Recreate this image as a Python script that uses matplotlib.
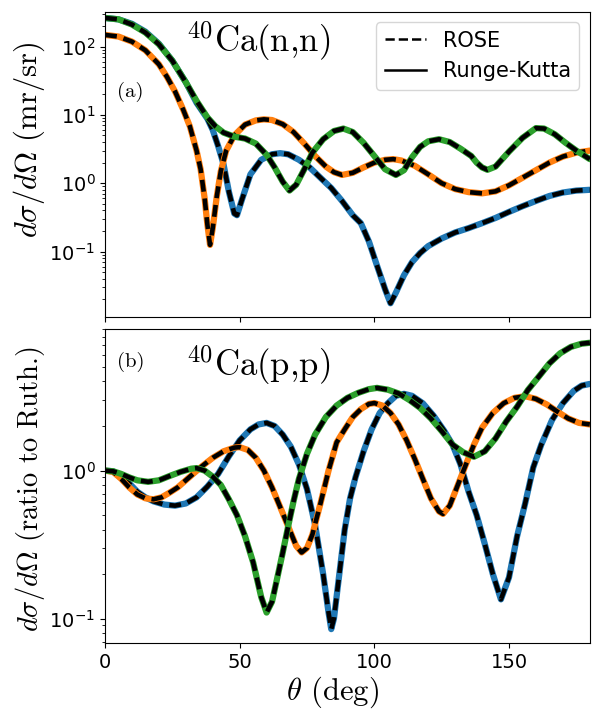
import matplotlib
matplotlib.use('Agg')
import matplotlib.pyplot as plt
from matplotlib.lines import Line2D

plt.rcParams['mathtext.fontset'] = 'cm'

# ---- panel (a): 40Ca(n,n), mr/sr ----
n_blue_th = [0, 5, 10, 15, 20, 25, 30, 34, 38, 40, 42, 44, 46, 48, 49, 51, 54, 58, 62, 65, 68, 72,
             76, 80, 84, 88, 92, 95, 98, 101, 104, 106, 108, 111, 114, 117, 120, 125, 130, 135,
             140, 145, 150, 155, 160, 165, 170, 175, 180]
n_blue = [262, 250, 215, 165, 110, 62, 30, 15, 8.8, 6.0, 3.5, 1.9, 0.75, 0.36, 0.34, 0.6, 1.35, 2.2,
          2.65, 2.75, 2.65, 2.2, 1.7, 1.2, 0.85, 0.55, 0.34, 0.26, 0.14, 0.062, 0.028, 0.0175, 0.025,
          0.045, 0.07, 0.095, 0.12, 0.155, 0.19, 0.22, 0.26, 0.31, 0.38, 0.46, 0.55, 0.65, 0.73,
          0.78, 0.80]

n_orange_th = [0, 5, 10, 15, 20, 23, 26, 29, 31.5, 34, 35.5, 37, 38, 39, 40, 41.5, 43, 45, 48, 52,
               56, 59, 62, 66, 70, 74, 78, 82, 85, 88, 92, 96, 100, 104, 107, 110, 115, 120, 125,
               130, 135, 140, 145, 150, 155, 160, 165, 170, 175, 180]
n_orange = [148, 140, 118, 88, 55, 36, 22, 12, 6.8, 3.0, 1.6, 0.6, 0.25, 0.125, 0.22, 0.64, 1.5,
            3.0, 5.0, 7.2, 8.3, 8.6, 8.4, 7.3, 5.6, 3.8, 2.5, 1.75, 1.45, 1.32, 1.42, 1.7, 2.0,
            2.2, 2.25, 2.15, 1.8, 1.35, 1.0, 0.82, 0.74, 0.71, 0.76, 0.93, 1.2, 1.55, 2.0, 2.45,
            2.8, 3.0]

n_green_th = [0, 5, 10, 15, 20, 25, 30, 34, 38, 41, 44, 48, 52, 56, 60, 63, 66, 68.5, 71, 74, 77,
              81, 85, 88.5, 92, 96, 100, 104, 108, 111, 114, 117, 120, 124, 128, 132, 136, 138,
              140, 142, 145, 150, 155, 160, 163, 167, 171, 175, 180]
n_green = [262, 250, 210, 160, 108, 62, 30, 16, 9.2, 6.8, 5.5, 4.8, 4.5, 3.8, 2.6, 1.7, 1.05, 0.78,
           0.95, 1.6, 2.8, 4.4, 5.8, 6.3, 5.6, 3.9, 2.5, 1.6, 1.32, 1.55, 2.4, 3.4, 4.1, 4.4, 4.0,
           3.2, 2.5, 2.0, 1.7, 1.57, 1.75, 2.9, 4.6, 6.4, 6.3, 5.2, 3.9, 3.0, 2.25]

# ---- panel (b): 40Ca(p,p), ratio to Rutherford ----
p_blue_th = [0, 3, 6, 9, 12, 15, 18, 22, 26, 30, 34, 38, 42, 46, 50, 54, 57, 60, 63, 66, 69, 72,
             75, 78, 81, 83, 84, 85, 87, 89, 91, 93, 96, 99, 102, 105, 108, 111, 114, 118, 122,
             126, 129, 132, 135, 138, 141, 144, 147, 150, 153, 156, 159, 162, 166, 170, 174, 177,
             180]
p_blue = [1.0, 0.99, 0.92, 0.82, 0.72, 0.66, 0.62, 0.59, 0.58, 0.6, 0.66, 0.78, 0.95, 1.25, 1.6,
          1.9, 2.05, 2.1, 2.0, 1.75, 1.45, 1.1, 0.75, 0.43, 0.2, 0.11, 0.085, 0.1, 0.2, 0.4, 0.65,
          0.9, 1.35, 1.9, 2.45, 2.85, 3.2, 3.3, 3.2, 2.85, 2.35, 1.85, 1.5, 1.1, 0.72, 0.5, 0.32,
          0.2, 0.135, 0.19, 0.36, 0.6, 1.05, 1.5, 2.2, 2.85, 3.45, 3.75, 3.85]

p_orange_th = [0, 3, 6, 9, 12, 15, 18, 21, 24, 27, 30, 33, 36, 40, 44, 48, 50, 53, 56, 59, 62, 65,
               68, 71, 73, 75, 77, 80, 83, 86, 89, 92, 95, 98, 100, 103, 106, 109, 112, 115, 118,
               121, 124, 125.5, 128, 131, 134, 137, 140, 144, 148, 152, 156, 160, 164, 168, 172,
               176, 180]
p_orange = [1.0, 0.98, 0.88, 0.77, 0.69, 0.65, 0.64, 0.66, 0.71, 0.77, 0.86, 0.96, 1.07, 1.22,
            1.35, 1.43, 1.44, 1.38, 1.22, 1.0, 0.77, 0.57, 0.42, 0.31, 0.28, 0.3, 0.37, 0.6, 1.0,
            1.55, 1.9, 2.3, 2.6, 2.82, 2.86, 2.75, 2.45, 2.05, 1.6, 1.2, 0.88, 0.65, 0.53, 0.51,
            0.58, 0.8, 1.1, 1.5, 1.95, 2.45, 2.85, 3.1, 3.18, 3.05, 2.8, 2.5, 2.25, 2.1, 2.05]

p_green_th = [0, 3, 6, 9, 12, 16, 20, 24, 28, 32, 34, 37, 40, 43, 46, 49, 52, 55, 58, 60, 62, 64,
              66, 68, 70, 72, 75, 78, 82, 86, 90, 94, 98, 101, 105, 109, 113, 117, 121, 125, 129,
              133, 137, 141, 145, 149, 153, 157, 161, 165, 169, 173, 177, 180]
p_green = [1.0, 0.99, 0.95, 0.9, 0.86, 0.84, 0.86, 0.92, 0.98, 1.03, 1.04, 1.0, 0.91, 0.8, 0.64,
           0.5, 0.36, 0.24, 0.14, 0.11, 0.13, 0.19, 0.28, 0.42, 0.62, 0.88, 1.3, 1.75, 2.3, 2.75,
           3.1, 3.35, 3.55, 3.62, 3.52, 3.32, 3.0, 2.65, 2.25, 1.85, 1.5, 1.33, 1.24, 1.35, 1.65,
           2.15, 2.7, 3.5, 4.3, 5.3, 6.2, 6.85, 7.2, 7.3]

colors = ['C0', 'C1', 'C2']
serif = 'cmr10'

fig = plt.figure(figsize=(6, 7.15), dpi=100)
ax1 = fig.add_axes([0.175, 0.5566, 0.808, 0.4266])
ax2 = fig.add_axes([0.175, 0.1007, 0.808, 0.4393], sharex=ax1)


def draw(ax, curves):
    for (th, vals), c in zip(curves, colors):
        ax.plot(th, vals, color=c, lw=4.5, solid_capstyle='round')
        ax.plot(th, vals, color='k', lw=3.3, dashes=(2.6, 1.5))


draw(ax1, [(n_blue_th, n_blue), (n_orange_th, n_orange), (n_green_th, n_green)])
draw(ax2, [(p_blue_th, p_blue), (p_orange_th, p_orange), (p_green_th, p_green)])

for ax in (ax1, ax2):
    ax.set_yscale('log')
    ax.tick_params(labelsize=14)
ax1.set_xlim(0, 180)
ax1.set_ylim(0.011, 320)
ax2.set_ylim(0.0685, 9.06)
ax1.tick_params(labelbottom=False)
ax2.set_xticks([0, 50, 100, 150])

ax1.set_ylabel(r'$d\sigma/d\Omega$ (mr/sr)', fontsize=22, family=serif)
ax2.set_ylabel(r'$d\sigma/d\Omega$ (ratio to Ruth.)', fontsize=20.5, family=serif)
ax2.set_xlabel(r'$\theta$ (deg)', fontsize=22, family=serif)
ax1.yaxis.set_label_coords(-0.12, 0.58)
ax2.yaxis.set_label_coords(-0.12, 0.49)
ax2.xaxis.set_label_coords(0.47, -0.1)

ax1.text(0.315, 0.905, r'$^{40}$Ca(n,n)', transform=ax1.transAxes, family=serif,
         fontsize=25, ha='center', va='center')
ax1.text(0.025, 0.738, '(a)', transform=ax1.transAxes, family=serif,
         fontsize=15, ha='left', va='center')
ax2.text(0.315, 0.885, r'$^{40}$Ca(p,p)', transform=ax2.transAxes, family=serif,
         fontsize=25, ha='center', va='center')
ax2.text(0.025, 0.895, '(b)', transform=ax2.transAxes, family=serif,
         fontsize=15, ha='left', va='center')

handles = [Line2D([], [], color='k', ls='--', lw=1.8),
           Line2D([], [], color='k', ls='-', lw=1.8)]
ax1.legend(handles, ['ROSE', 'Runge-Kutta'], loc='upper right', fontsize=15)

fig.savefig('out.png', dpi=100)
